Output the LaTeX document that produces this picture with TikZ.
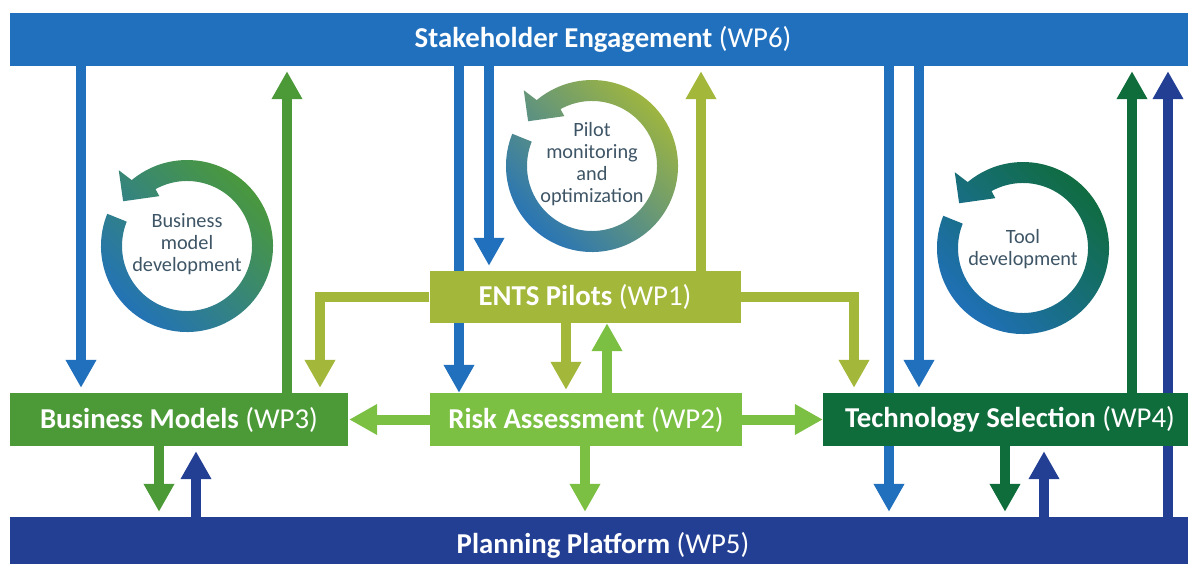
\documentclass[tikz,border=0pt]{standalone}
\usepackage{fontspec}
\setmainfont{Carlito}
\usetikzlibrary{arrows.meta,backgrounds}

\definecolor{wpblue}{RGB}{32,112,190}
\definecolor{wpnavy}{RGB}{35,63,148}
\definecolor{wpgreen}{RGB}{76,154,55}
\definecolor{wplime}{RGB}{124,192,67}
\definecolor{wpolive}{RGB}{163,184,59}
\definecolor{wpdark}{RGB}{15,108,59}
\definecolor{ringtext}{RGB}{62,85,102}

\tikzset{
  wpbox/.style={rectangle,inner sep=0pt,text=white,font=\fontsize{28.8}{32}\selectfont},
  flow/.style={line width=10pt,-{Triangle[width=29pt,length=28pt]},shorten >=5pt},
  ringlabel/.style={align=center,text=ringtext,font=\fontsize{20.3}{22}\selectfont},
}

% circular arrow: centre, tail colour, middle colour, head colour
\newcommand{\ringarrow}[4]{%
  \shade[bottom color=#2,middle color=#3,top color=#4,shading angle=-45,shift={(#1)}]
    (158:86) arc[start angle=158,end angle=490,radius=86]
    -- (492:102) -- (505:78) -- (479:57) -- (479:65)
    arc[start angle=479,end angle=158,radius=65] -- cycle;
}

\begin{document}
\begin{tikzpicture}[x=1pt,y=1pt]
\useasboundingbox (0,0) rectangle (1188,563);

% work packages
\node[wpbox,fill=wpblue,minimum width=1186pt,minimum height=53pt] (wp6) at (603,523.5)
  {\textbf{Stakeholder Engagement} (WP6)};
\node[wpbox,fill=wpnavy,minimum width=1186pt,minimum height=56pt] (wp5) at (603,18)
  {\textbf{Planning Platform} (WP5)};
\node[wpbox,fill=wpgreen,minimum width=338pt,minimum height=53pt] (wp3) at (179,143.5)
  {\textbf{Business Models} (WP3)};
\node[wpbox,fill=wplime,minimum width=312pt,minimum height=53pt] (wp2) at (586,143.5)
  {\textbf{Risk Assessment} (WP2)};
\node[wpbox,fill=wpolive,minimum width=311pt,minimum height=52pt] (wp1) at (585,266)
  {\textbf{ENTS Pilots} (WP1)};
\node[wpbox,fill=wpdark,minimum width=374pt,minimum height=53pt] (wp4) at (1010,143.5)
  {\textbf{Technology Selection} (WP4)};

\foreach \x in {81,159,196,287,320,459,489,566,585,607,701,854,889,919,1005,1044,1132,1168}
  \coordinate (x\x) at (\x,0);

\begin{scope}[on background layer]
\draw[flow,wpblue] (wp6.south -| x81) -- (wp3.north -| x81);
\draw[flow,wpgreen] (wp3.north -| x287) -- (wp6.south -| x287);
\draw[flow,wpblue,shorten >=0pt] (wp6.south -| x459) -- (wp2.north -| x459);
\draw[flow,wpblue] (wp6.south -| x489) -- (wp1.north -| x489);
\draw[flow,wpolive] (wp1.north -| x701) -- (wp6.south -| x701);
\draw[flow,wpolive] (wp1.west) -| (wp3.north -| x320);
\draw[flow,wpolive] (wp1.east) -| (wp4.north -| x854);
\draw[flow,wpolive,shorten >=3pt] (wp1.south -| x566) -- (wp2.north -| x566);
\draw[flow,wplime,shorten >=0pt] (wp2.north -| x607) -- (wp1.south -| x607);
\draw[flow,wplime,shorten >=1pt] (wp2.west) -- (wp3.east);
\draw[flow,wplime,shorten >=0pt] (wp2.east) -- (wp4.west);
\draw[flow,wplime] (wp2.south -| x585) -- (wp5.north -| x585);
\draw[flow,wpblue] (wp6.south -| x889) -- (wp5.north -| x889);
\draw[flow,wpblue] (wp6.south -| x919) -- (wp4.north -| x919);
\draw[flow,wpdark] (wp4.north -| x1132) -- (wp6.south -| x1132);
\draw[flow,wpnavy] (wp5.north -| x1168) -- (wp6.south -| x1168);
\draw[flow,wpdark] (wp4.south -| x1005) -- (wp5.north -| x1005);
\draw[flow,wpnavy] (wp5.north -| x1044) -- (wp4.south -| x1044);
\draw[flow,wpgreen] (wp3.south -| x159) -- (wp5.north -| x159);
\draw[flow,wpnavy] (wp5.north -| x196) -- (wp3.south -| x196);
\end{scope}

% development cycles
\ringarrow{187,317}{wpblue}{teal!70!wpgreen}{wpgreen}
\node[ringlabel] (bmdev) at (187,319) {Business\\model\\development};
\ringarrow{592,397}{wpblue}{wplime!85!teal}{wpolive}
\node[ringlabel] (pilotmon) at (592,399) {Pilot\\monitoring\\and\\optimization};
\ringarrow{1023,315}{wpblue}{teal!60!wpblue}{wpdark}
\node[ringlabel] (tooldev) at (1023,314) {Tool\\development};
\end{tikzpicture}
\end{document}
